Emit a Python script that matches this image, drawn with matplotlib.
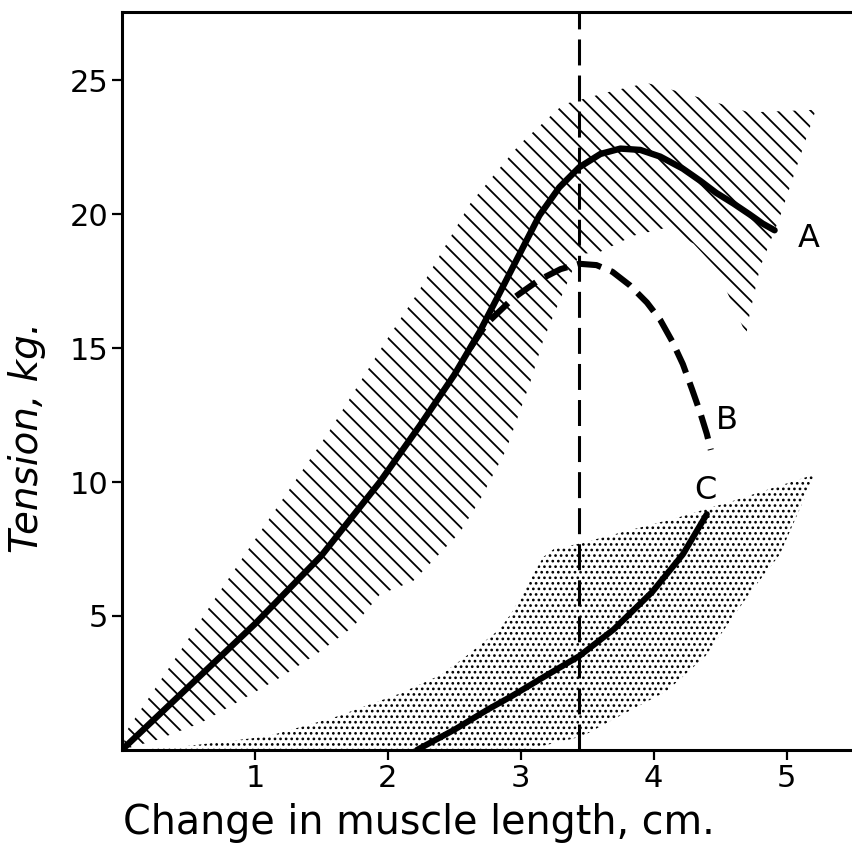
import matplotlib
matplotlib.use("Agg")
import matplotlib.pyplot as plt

plt.rcParams["font.family"] = ["DejaVu Sans"]

# Curve A: active tension (solid)
a_x = [0.0, 0.5, 1.0, 1.5, 1.94, 2.24, 2.5, 2.69, 2.82, 2.99, 3.14, 3.29,
       3.44, 3.6, 3.75, 3.9, 4.05, 4.22, 4.35, 4.47, 4.6, 4.72, 4.82, 4.91]
a_y = [0.0, 2.35, 4.7, 7.25, 10.0, 12.1, 14.0, 15.6, 16.85, 18.5, 19.95, 21.0,
       21.75, 22.25, 22.45, 22.4, 22.15, 21.7, 21.25, 20.8, 20.4, 20.0, 19.65, 19.4]

# Curve B: dashed
b_x = [2.62, 2.74, 2.94, 3.14, 3.3, 3.44, 3.57, 3.69, 3.82, 3.95, 4.05, 4.14,
       4.22, 4.29, 4.35, 4.4, 4.43]
b_y = [15.0, 15.9, 16.85, 17.55, 17.95, 18.15, 18.1, 17.85, 17.35, 16.7, 16.05, 15.25,
       14.4, 13.45, 12.6, 11.8, 11.2]

# Curve C: passive tension (solid)
c_x = [2.22, 2.5, 2.75, 2.93, 3.2, 3.44, 3.7, 3.99, 4.22, 4.4]
c_y = [0.0, 0.75, 1.5, 2.0, 2.8, 3.5, 4.5, 5.9, 7.3, 8.8]

# Spread of curve A (hatched band outline)
band_a_x = [0.0, 0.04, 0.44, 0.68, 0.98, 1.56, 1.99, 2.23, 2.62, 2.99, 3.32, 3.69,
            3.95, 4.1, 4.42, 4.72, 5.22, 4.95, 4.8, 4.72, 4.7, 4.67, 4.57, 4.47,
            4.3, 4.1, 3.85, 3.6, 3.44, 3.27, 3.17, 3.07, 2.89, 2.69, 2.54, 2.19,
            1.94, 1.74, 1.47, 1.19, 0.91, 0.59, 0.26, 0.0]
band_a_y = [0.0, 0.75, 3.7, 5.5, 7.7, 11.9, 15.3, 17.1, 20.4, 22.6, 24.1, 24.6,
            24.9, 24.7, 24.25, 23.8, 23.9, 19.9, 18.0, 16.2, 15.6, 15.8, 16.9, 18.0,
            18.9, 19.5, 19.2, 18.6, 18.5, 16.5, 15.3, 13.7, 11.2, 9.3, 8.1, 6.3,
            5.8, 4.6, 3.6, 2.7, 1.9, 1.0, 0.37, 0.0]

# Spread of curve C (stippled band outline)
band_c_x = [0.1, 0.5, 1.09, 1.59, 2.09, 2.4, 2.59, 2.84, 2.93, 3.05, 3.17, 3.25,
            3.44, 3.82, 4.2, 4.6, 5.22, 5.1, 5.02, 4.95, 4.73, 4.39, 4.1, 3.72,
            3.46, 3.04]
band_c_y = [0.0, 0.15, 0.5, 1.2, 2.1, 2.8, 3.5, 4.5, 5.1, 6.2, 7.2, 7.5,
            7.7, 8.2, 8.7, 9.3, 10.3, 9.0, 8.1, 7.3, 5.9, 3.5, 2.2, 1.2,
            0.5, 0.0]

rest_length = 3.44

x_ticks = [1, 2, 3, 4, 5]
y_ticks = [5, 10, 15, 20, 25]
curve_labels = ["A", "B", "C"]
label_x = [5.17, 4.55, 4.39]
label_y = [19.1, 12.3, 9.7]

fig = plt.figure(figsize=(8.53, 8.57), dpi=100)
ax = fig.add_axes([0.143, 0.125, 0.857, 0.861])

with plt.rc_context({"hatch.linewidth": 1.3}):
    band_a = ax.fill(band_a_x, band_a_y, facecolor="none", edgecolor="black",
                     linewidth=0, hatch="\\\\")[0]
with plt.rc_context({"hatch.linewidth": 1.15}):
    band_c = ax.fill(band_c_x, band_c_y, facecolor="none", edgecolor="black",
                     linewidth=0, hatch="...")[0]
for patch, hw in ((band_a, 1.3), (band_c, 1.15)):
    if hasattr(patch, "set_hatch_linewidth"):
        patch.set_hatch_linewidth(hw)

ax.axvline(rest_length, color="black", lw=2.2, dashes=(8.5, 3.3))

ax.plot(a_x, a_y, color="black", lw=4.6, solid_capstyle="round",
        solid_joinstyle="round")
ax.plot(b_x, b_y, color="black", lw=4.4, dashes=(4.0, 1.7))
ax.plot(c_x, c_y, color="black", lw=4.4, solid_capstyle="round",
        solid_joinstyle="round")

for t, lx, ly in zip(curve_labels, label_x, label_y):
    ax.text(lx, ly, t, fontsize=23, ha="center", va="center")

ax.set_xlim(0, 5.5)
ax.set_ylim(0, 27.55)
ax.set_xticks(x_ticks)
ax.set_xticklabels([str(v) for v in x_ticks])
ax.set_yticks(y_ticks)
ax.set_yticklabels([str(v) for v in y_ticks])
ax.tick_params(axis="both", direction="out", length=7, width=1.6,
               labelsize=22, pad=3)

for side in ("left", "bottom", "top"):
    ax.spines[side].set_linewidth(2.2)
ax.spines["right"].set_visible(False)

ax.set_xlabel("Change in muscle length, cm.", fontsize=28.5)
ax.xaxis.set_label_coords(0.406, -0.072)
ax.set_ylabel("Tension, kg.", fontsize=28, style="italic")
ax.yaxis.set_label_coords(-0.104, 0.424)

fig.savefig("out.png", dpi=100)
